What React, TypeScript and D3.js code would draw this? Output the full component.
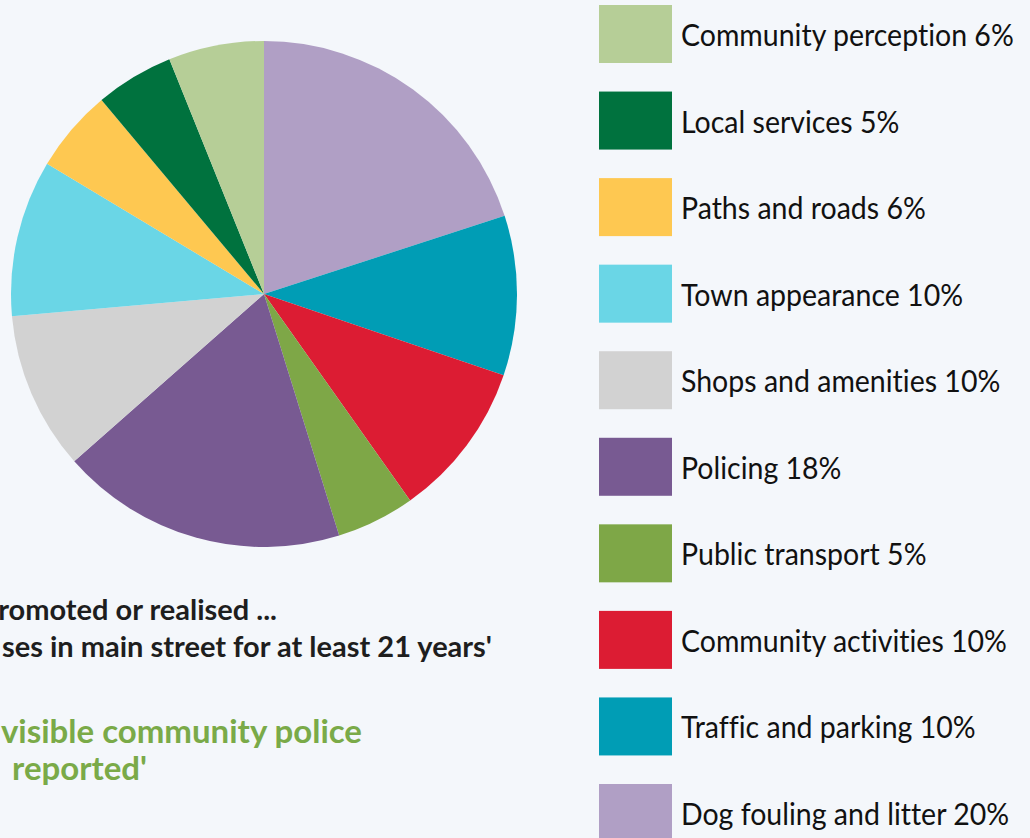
import React from "react";
import * as d3 from "d3";

const categories = [
  "Dog fouling and litter",
  "Traffic and parking",
  "Community activities",
  "Public transport",
  "Policing",
  "Shops and amenities",
  "Town appearance",
  "Paths and roads",
  "Local services",
  "Community perception",
];
// percentages printed in the legend
const labelPercents = [20, 10, 10, 5, 18, 10, 10, 6, 5, 6];
// slice sizes
const sliceValues = [20, 10.2, 10.0, 5.0, 18.3, 10.1, 10.0, 5.3, 5.0, 6.1];
const colors = [
  "#b09fc5",
  "#009db5",
  "#dc1c33",
  "#7ea747",
  "#785a92",
  "#d2d2d2",
  "#6ad6e6",
  "#fec851",
  "#00723e",
  "#b6ce97",
];
// legend order (top to bottom)
const legendOrder = [9, 8, 7, 6, 5, 4, 3, 2, 1, 0];
const blackLines = ["promoted or realised ...", "ses in main street for at least 21 years'"];
const greenLines = ["visible community police", "reported'"];

const W = 1030;
const H = 838;
const FONT = "Lato, 'Open Sans', sans-serif";
const noLig = { fontVariantLigatures: "none", fontFeatureSettings: "'liga' 0, 'clig' 0" } as React.CSSProperties;

export default function App() {
  const cx = 264;
  const cy = 294;
  const r = 253;
  const pie = d3.pie<number>().sort(null).value((d) => d)(sliceValues);
  const arc = d3.arc<d3.PieArcDatum<number>>().innerRadius(0).outerRadius(r);
  const legY = d3.scaleLinear().domain([0, 9]).range([5, 784]);

  return (
    <svg
      width={W}
      height={H}
      style={{ position: "absolute", left: 0, top: 0, background: "#f4f7fb" }}
    >
      <rect x={0} y={0} width={W} height={H} fill="#f4f7fb" />
      <g transform={`translate(${cx},${cy})`}>
        {pie.map((p, i) => (
          <path key={i} d={arc(p) || ""} fill={colors[i]} />
        ))}
      </g>
      {legendOrder.map((idx, row) => {
        const y = legY(row);
        return (
          <g key={idx}>
            <rect x={599} y={y} width={73} height={58} fill={colors[idx]} />
            <text
              transform={`translate(681,${y + 41}) scale(0.92,1)`}
              fontFamily={FONT}
              fontSize={31}
              fill="#111"
              style={noLig}
            >
              {`${categories[idx]} ${labelPercents[idx]}%`}
            </text>
          </g>
        );
      })}
      <g fontFamily={FONT} fontWeight="bold" fill="#1e1e1e" fontSize={29} textAnchor="end" style={noLig}>
        <text x={277} y={620}>{blackLines[0]}</text>
        <text x={492} y={657}>{blackLines[1]}</text>
      </g>
      <g fontFamily={FONT} fontWeight="bold" fill="#7aaa48" fontSize={33} textAnchor="end" style={noLig}>
        <text x={362} y={743}>{greenLines[0]}</text>
        <text x={147} y={780}>{greenLines[1]}</text>
      </g>
    </svg>
  );
}
